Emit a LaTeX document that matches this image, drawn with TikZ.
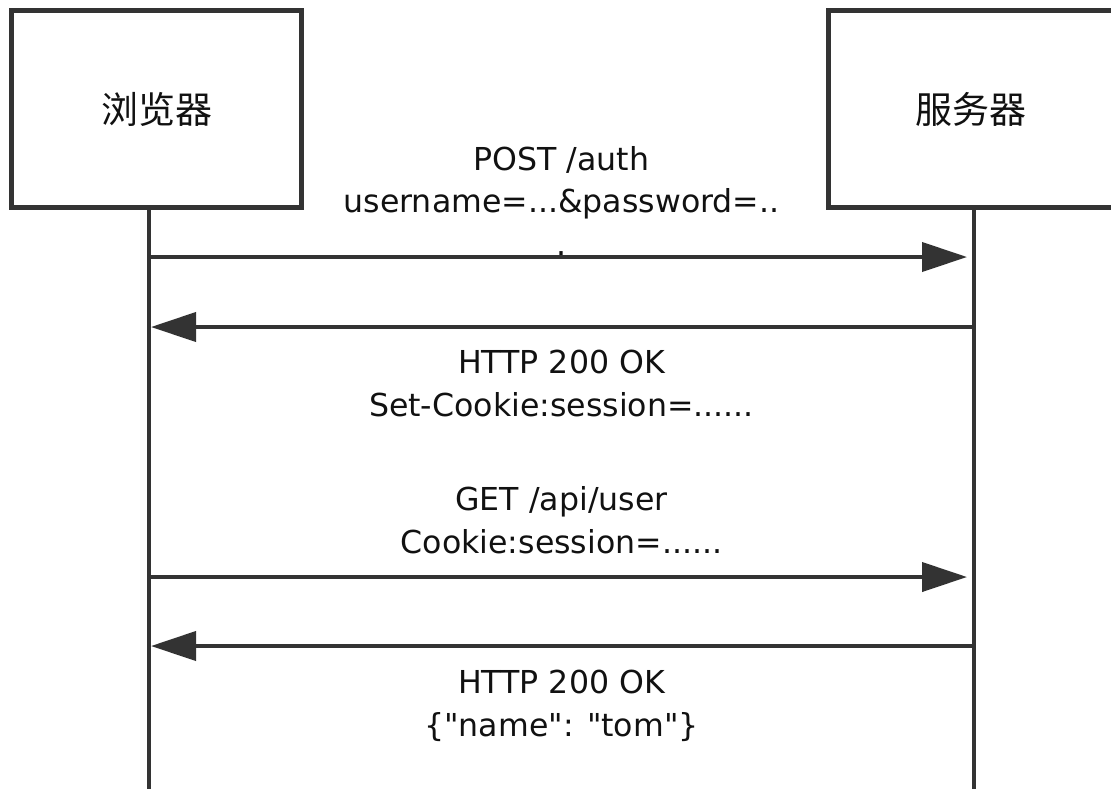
\documentclass[tikz,border=0pt]{standalone}
\usepackage{fontspec}
\setmainfont{DejaVu Sans}
\newfontfamily\msgfont{DejaVu Sans}
\newfontfamily\cjkfont{Noto Sans CJK SC}
\usetikzlibrary{arrows.meta}
\definecolor{linegray}{HTML}{333333}
\definecolor{textblack}{HTML}{111111}

\begin{document}
\begin{tikzpicture}[x=0.5pt, y=-0.5pt,
		box/.style={draw=linegray, line width=2.5pt, fill=white, minimum height=98.5pt, font=\cjkfont\fontsize{18.5}{20}\selectfont, text=textblack},
		life/.style={draw=linegray, line width=2pt},
		msg/.style={draw=linegray, line width=2pt, -{Triangle[length=22.5pt, width=14.5pt]}},
		toserver/.style={msg, shorten >=3.5pt},
		tobrowser/.style={msg, shorten >=1pt},
		lbl/.style={align=center, inner sep=0pt, anchor=base, text=textblack, font=\msgfont\fontsize{15.8}{21.2}\selectfont}]
	\clip (0,0) rectangle (1111,789);

	\node[box, minimum width=145pt] (browser) at (156.5,109) {浏览器};
	\node[box, minimum width=142.75pt] (server) at (971.25,109) {服务器};

	\coordinate (bend) at (149,789);
	\coordinate (send) at (974,789);
	\draw[life] (browser.south -| bend) -- (bend);
	\draw[life] (server.south -| send) -- (send);

	\coordinate (b1) at (149,257);
	\coordinate (s1) at (974,257);
	\coordinate (b2) at (149,327);
	\coordinate (s2) at (974,327);
	\coordinate (b3) at (149,577);
	\coordinate (s3) at (974,577);
	\coordinate (b4) at (149,646);
	\coordinate (s4) at (974,646);

	\draw[toserver] (b1) -- (s1);
	\draw[tobrowser] (s2) -- (b2);
	\draw[toserver] (b3) -- (s3);
	\draw[tobrowser] (s4) -- (b4);

	\node[lbl] (post) at (561.5,255) {POST /auth\\username=...\&password=..\\.};
	\node[lbl] (okcookie) at (561.5,416) {HTTP 200 OK\\Set-Cookie:session=......};
	\node[lbl] (getuser) at (561.5,553) {GET /api/user\\Cookie:session=......};
	\node[lbl] (okuser) at (561.5,736) {HTTP 200 OK\\\{"name": "tom"\}};
\end{tikzpicture}
\end{document}
